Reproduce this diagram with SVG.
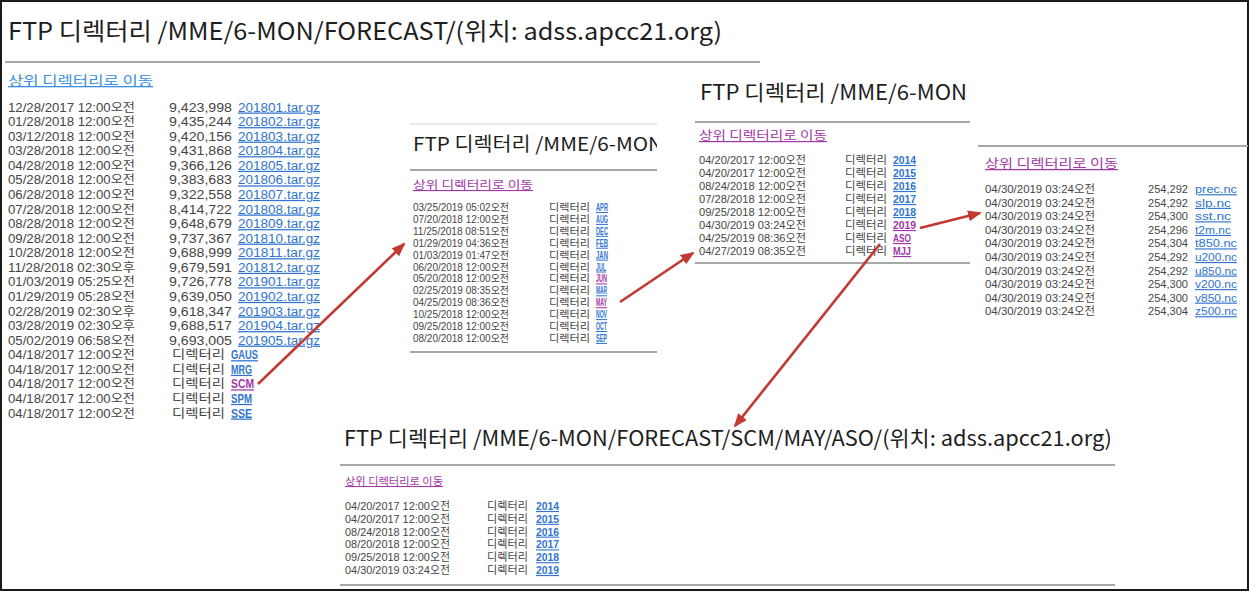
<svg xmlns="http://www.w3.org/2000/svg" width="1249" height="591" viewBox="0 0 1249 591">
  <style>
    text { font-family: "Noto Sans CJK KR", "Noto Sans", sans-serif; }
    .lst text { font-family: "Liberation Sans", "Noto Sans CJK KR", sans-serif; }
    .title { fill: #1e1e1e; }
    .r { fill: #454545; }
    .lb { fill: #2f74d0; text-decoration: underline; }
    .lp { fill: #a236a8; text-decoration: underline; }
    .up1 { fill: #3b8fe0; text-decoration: underline; }
    .b { font-weight: bold; }
    .rule { stroke: #a8a8a8; stroke-width: 2; fill: none; }
    .faint { stroke: #e4e4e4; stroke-width: 1.5; fill: none; }
    .arrow { stroke: #c23a32; stroke-width: 2.6; fill: none; marker-end: url(#head); }
    .p1 { font-size: 12.5px; }
    .p2 { font-size: 10.3px; }
    .p3 { font-size: 11.2px; }
    .p4 { font-size: 11.5px; }
    .p5 { font-size: 11px; }
  </style>
  <defs>
    <marker id="head" viewBox="0 0 14 11" refX="12" refY="5.5" markerWidth="14" markerHeight="11" markerUnits="userSpaceOnUse" orient="auto">
      <path d="M0,0 L14,5.5 L0,11 z" fill="#c23a32"/>
    </marker>
    <clipPath id="clip2">
      <rect x="405" y="120" width="252" height="240"/>
    </clipPath>
  </defs>

  <rect x="0" y="0" width="1249" height="591" fill="#ffffff"/>
  <rect x="1" y="1" width="1247" height="589" fill="none" stroke="#1a1a1a" stroke-width="2"/>

  <!-- Root directory listing -->
  <g id="forecast-root">
    <text class="title" x="8" y="40" font-size="24" textLength="714" lengthAdjust="spacingAndGlyphs">FTP 디렉터리 /MME/6-MON/FORECAST/(위치: adss.apcc21.org)</text>
    <line class="rule" x1="5" y1="62" x2="760" y2="62"/>
    <text class="up1" x="8" y="85" font-size="13" textLength="145" lengthAdjust="spacingAndGlyphs">상위 디렉터리로 이동</text>
    <g class="lst p1">
      <text class="r" x="8" y="111.5" textLength="127" lengthAdjust="spacingAndGlyphs">12/28/2017 12:00오전</text><text class="r" x="232" y="111.5" text-anchor="end" textLength="63" lengthAdjust="spacingAndGlyphs">9,423,998</text><text class="lb" x="238" y="111.5" textLength="82" lengthAdjust="spacingAndGlyphs">201801.tar.gz</text>
      <text class="r" x="8" y="126.1" textLength="127" lengthAdjust="spacingAndGlyphs">01/28/2018 12:00오전</text><text class="r" x="232" y="126.1" text-anchor="end" textLength="63" lengthAdjust="spacingAndGlyphs">9,435,244</text><text class="lb" x="238" y="126.1" textLength="82" lengthAdjust="spacingAndGlyphs">201802.tar.gz</text>
      <text class="r" x="8" y="140.6" textLength="127" lengthAdjust="spacingAndGlyphs">03/12/2018 12:00오전</text><text class="r" x="232" y="140.6" text-anchor="end" textLength="63" lengthAdjust="spacingAndGlyphs">9,420,156</text><text class="lb" x="238" y="140.6" textLength="82" lengthAdjust="spacingAndGlyphs">201803.tar.gz</text>
      <text class="r" x="8" y="155.2" textLength="127" lengthAdjust="spacingAndGlyphs">03/28/2018 12:00오전</text><text class="r" x="232" y="155.2" text-anchor="end" textLength="63" lengthAdjust="spacingAndGlyphs">9,431,868</text><text class="lb" x="238" y="155.2" textLength="82" lengthAdjust="spacingAndGlyphs">201804.tar.gz</text>
      <text class="r" x="8" y="169.8" textLength="127" lengthAdjust="spacingAndGlyphs">04/28/2018 12:00오전</text><text class="r" x="232" y="169.8" text-anchor="end" textLength="63" lengthAdjust="spacingAndGlyphs">9,366,126</text><text class="lb" x="238" y="169.8" textLength="82" lengthAdjust="spacingAndGlyphs">201805.tar.gz</text>
      <text class="r" x="8" y="184.4" textLength="127" lengthAdjust="spacingAndGlyphs">05/28/2018 12:00오전</text><text class="r" x="232" y="184.4" text-anchor="end" textLength="63" lengthAdjust="spacingAndGlyphs">9,383,683</text><text class="lb" x="238" y="184.4" textLength="82" lengthAdjust="spacingAndGlyphs">201806.tar.gz</text>
      <text class="r" x="8" y="198.9" textLength="127" lengthAdjust="spacingAndGlyphs">06/28/2018 12:00오전</text><text class="r" x="232" y="198.9" text-anchor="end" textLength="63" lengthAdjust="spacingAndGlyphs">9,322,558</text><text class="lb" x="238" y="198.9" textLength="82" lengthAdjust="spacingAndGlyphs">201807.tar.gz</text>
      <text class="r" x="8" y="213.5" textLength="127" lengthAdjust="spacingAndGlyphs">07/28/2018 12:00오전</text><text class="r" x="232" y="213.5" text-anchor="end" textLength="63" lengthAdjust="spacingAndGlyphs">8,414,722</text><text class="lb" x="238" y="213.5" textLength="82" lengthAdjust="spacingAndGlyphs">201808.tar.gz</text>
      <text class="r" x="8" y="228.1" textLength="127" lengthAdjust="spacingAndGlyphs">08/28/2018 12:00오전</text><text class="r" x="232" y="228.1" text-anchor="end" textLength="63" lengthAdjust="spacingAndGlyphs">9,648,679</text><text class="lb" x="238" y="228.1" textLength="82" lengthAdjust="spacingAndGlyphs">201809.tar.gz</text>
      <text class="r" x="8" y="242.6" textLength="127" lengthAdjust="spacingAndGlyphs">09/28/2018 12:00오전</text><text class="r" x="232" y="242.6" text-anchor="end" textLength="63" lengthAdjust="spacingAndGlyphs">9,737,367</text><text class="lb" x="238" y="242.6" textLength="82" lengthAdjust="spacingAndGlyphs">201810.tar.gz</text>
      <text class="r" x="8" y="257.2" textLength="127" lengthAdjust="spacingAndGlyphs">10/28/2018 12:00오전</text><text class="r" x="232" y="257.2" text-anchor="end" textLength="63" lengthAdjust="spacingAndGlyphs">9,688,999</text><text class="lb" x="238" y="257.2" textLength="82" lengthAdjust="spacingAndGlyphs">201811.tar.gz</text>
      <text class="r" x="8" y="271.8" textLength="127" lengthAdjust="spacingAndGlyphs">11/28/2018 02:30오후</text><text class="r" x="232" y="271.8" text-anchor="end" textLength="63" lengthAdjust="spacingAndGlyphs">9,679,591</text><text class="lb" x="238" y="271.8" textLength="82" lengthAdjust="spacingAndGlyphs">201812.tar.gz</text>
      <text class="r" x="8" y="286.3" textLength="127" lengthAdjust="spacingAndGlyphs">01/03/2019 05:25오전</text><text class="r" x="232" y="286.3" text-anchor="end" textLength="63" lengthAdjust="spacingAndGlyphs">9,726,778</text><text class="lb" x="238" y="286.3" textLength="82" lengthAdjust="spacingAndGlyphs">201901.tar.gz</text>
      <text class="r" x="8" y="300.9" textLength="127" lengthAdjust="spacingAndGlyphs">01/29/2019 05:28오전</text><text class="r" x="232" y="300.9" text-anchor="end" textLength="63" lengthAdjust="spacingAndGlyphs">9,639,050</text><text class="lb" x="238" y="300.9" textLength="82" lengthAdjust="spacingAndGlyphs">201902.tar.gz</text>
      <text class="r" x="8" y="315.5" textLength="127" lengthAdjust="spacingAndGlyphs">02/28/2019 02:30오후</text><text class="r" x="232" y="315.5" text-anchor="end" textLength="63" lengthAdjust="spacingAndGlyphs">9,618,347</text><text class="lb" x="238" y="315.5" textLength="82" lengthAdjust="spacingAndGlyphs">201903.tar.gz</text>
      <text class="r" x="8" y="330.1" textLength="127" lengthAdjust="spacingAndGlyphs">03/28/2019 02:30오후</text><text class="r" x="232" y="330.1" text-anchor="end" textLength="63" lengthAdjust="spacingAndGlyphs">9,688,517</text><text class="lb" x="238" y="330.1" textLength="82" lengthAdjust="spacingAndGlyphs">201904.tar.gz</text>
      <text class="r" x="8" y="344.6" textLength="127" lengthAdjust="spacingAndGlyphs">05/02/2019 06:58오전</text><text class="r" x="232" y="344.6" text-anchor="end" textLength="63" lengthAdjust="spacingAndGlyphs">9,693,005</text><text class="lb" x="238" y="344.6" textLength="82" lengthAdjust="spacingAndGlyphs">201905.tar.gz</text>
      <text class="r" x="8" y="359.2" textLength="127" lengthAdjust="spacingAndGlyphs">04/18/2017 12:00오전</text><text class="r" x="172" y="359.2" textLength="53" lengthAdjust="spacingAndGlyphs">디렉터리</text><text class="lb b" x="231" y="359.2" textLength="27" lengthAdjust="spacingAndGlyphs">GAUS</text>
      <text class="r" x="8" y="373.8" textLength="127" lengthAdjust="spacingAndGlyphs">04/18/2017 12:00오전</text><text class="r" x="172" y="373.8" textLength="53" lengthAdjust="spacingAndGlyphs">디렉터리</text><text class="lb b" x="231" y="373.8" textLength="21" lengthAdjust="spacingAndGlyphs">MRG</text>
      <text class="r" x="8" y="388.3" textLength="127" lengthAdjust="spacingAndGlyphs">04/18/2017 12:00오전</text><text class="r" x="172" y="388.3" textLength="53" lengthAdjust="spacingAndGlyphs">디렉터리</text><text class="lp b" x="231" y="388.3" textLength="23" lengthAdjust="spacingAndGlyphs">SCM</text>
      <text class="r" x="8" y="402.9" textLength="127" lengthAdjust="spacingAndGlyphs">04/18/2017 12:00오전</text><text class="r" x="172" y="402.9" textLength="53" lengthAdjust="spacingAndGlyphs">디렉터리</text><text class="lb b" x="231" y="402.9" textLength="21" lengthAdjust="spacingAndGlyphs">SPM</text>
      <text class="r" x="8" y="417.5" textLength="127" lengthAdjust="spacingAndGlyphs">04/18/2017 12:00오전</text><text class="r" x="172" y="417.5" textLength="53" lengthAdjust="spacingAndGlyphs">디렉터리</text><text class="lb b" x="231" y="417.5" textLength="21" lengthAdjust="spacingAndGlyphs">SSE</text>
    </g>
  </g>

  <!-- SCM: month directories -->
  <g id="scm-months">
    <line class="faint" x1="410" y1="124" x2="657" y2="124"/>
    <text class="title" x="413" y="151" font-size="19" textLength="250" lengthAdjust="spacingAndGlyphs" clip-path="url(#clip2)">FTP 디렉터리 /MME/6-MON</text>
    <line class="rule" x1="410" y1="170" x2="657" y2="170"/>
    <text class="lp" x="413" y="189" font-size="11" textLength="120" lengthAdjust="spacingAndGlyphs">상위 디렉터리로 이동</text>
    <g class="lst p2">
      <text class="r" x="413" y="211" textLength="96" lengthAdjust="spacingAndGlyphs">03/25/2019 05:02오전</text><text class="r" x="549" y="211" textLength="41" lengthAdjust="spacingAndGlyphs">디렉터리</text><text class="lb b" x="596" y="211" textLength="12" lengthAdjust="spacingAndGlyphs">APR</text>
      <text class="r" x="413" y="222.9" textLength="96" lengthAdjust="spacingAndGlyphs">07/20/2018 12:00오전</text><text class="r" x="549" y="222.9" textLength="41" lengthAdjust="spacingAndGlyphs">디렉터리</text><text class="lb b" x="596" y="222.9" textLength="12" lengthAdjust="spacingAndGlyphs">AUG</text>
      <text class="r" x="413" y="234.8" textLength="96" lengthAdjust="spacingAndGlyphs">11/25/2018 08:51오전</text><text class="r" x="549" y="234.8" textLength="41" lengthAdjust="spacingAndGlyphs">디렉터리</text><text class="lb b" x="596" y="234.8" textLength="12" lengthAdjust="spacingAndGlyphs">DEC</text>
      <text class="r" x="413" y="246.7" textLength="96" lengthAdjust="spacingAndGlyphs">01/29/2019 04:36오전</text><text class="r" x="549" y="246.7" textLength="41" lengthAdjust="spacingAndGlyphs">디렉터리</text><text class="lb b" x="596" y="246.7" textLength="12" lengthAdjust="spacingAndGlyphs">FEB</text>
      <text class="r" x="413" y="258.6" textLength="96" lengthAdjust="spacingAndGlyphs">01/03/2019 01:47오전</text><text class="r" x="549" y="258.6" textLength="41" lengthAdjust="spacingAndGlyphs">디렉터리</text><text class="lb b" x="596" y="258.6" textLength="12" lengthAdjust="spacingAndGlyphs">JAN</text>
      <text class="r" x="413" y="270.5" textLength="96" lengthAdjust="spacingAndGlyphs">06/20/2018 12:00오전</text><text class="r" x="549" y="270.5" textLength="41" lengthAdjust="spacingAndGlyphs">디렉터리</text><text class="lb b" x="596" y="270.5" textLength="10" lengthAdjust="spacingAndGlyphs">JUL</text>
      <text class="r" x="413" y="282.4" textLength="96" lengthAdjust="spacingAndGlyphs">05/20/2018 12:00오전</text><text class="r" x="549" y="282.4" textLength="41" lengthAdjust="spacingAndGlyphs">디렉터리</text><text class="lp b" x="596" y="282.4" textLength="11" lengthAdjust="spacingAndGlyphs">JUN</text>
      <text class="r" x="413" y="294.3" textLength="96" lengthAdjust="spacingAndGlyphs">02/25/2019 08:35오전</text><text class="r" x="549" y="294.3" textLength="41" lengthAdjust="spacingAndGlyphs">디렉터리</text><text class="lb b" x="596" y="294.3" textLength="11" lengthAdjust="spacingAndGlyphs">MAR</text>
      <text class="r" x="413" y="306.2" textLength="96" lengthAdjust="spacingAndGlyphs">04/25/2019 08:36오전</text><text class="r" x="549" y="306.2" textLength="41" lengthAdjust="spacingAndGlyphs">디렉터리</text><text class="lp b" x="596" y="306.2" textLength="11" lengthAdjust="spacingAndGlyphs">MAY</text>
      <text class="r" x="413" y="318.1" textLength="96" lengthAdjust="spacingAndGlyphs">10/25/2018 12:00오전</text><text class="r" x="549" y="318.1" textLength="41" lengthAdjust="spacingAndGlyphs">디렉터리</text><text class="lb b" x="596" y="318.1" textLength="11" lengthAdjust="spacingAndGlyphs">NOV</text>
      <text class="r" x="413" y="330" textLength="96" lengthAdjust="spacingAndGlyphs">09/25/2018 12:00오전</text><text class="r" x="549" y="330" textLength="41" lengthAdjust="spacingAndGlyphs">디렉터리</text><text class="lb b" x="596" y="330" textLength="11" lengthAdjust="spacingAndGlyphs">OCT</text>
      <text class="r" x="413" y="341.9" textLength="96" lengthAdjust="spacingAndGlyphs">08/20/2018 12:00오전</text><text class="r" x="549" y="341.9" textLength="41" lengthAdjust="spacingAndGlyphs">디렉터리</text><text class="lb b" x="596" y="341.9" textLength="11" lengthAdjust="spacingAndGlyphs">SEP</text>
    </g>
    <line class="rule" x1="410" y1="352" x2="657" y2="352"/>
  </g>

  <!-- SCM/MAY: year and season directories -->
  <g id="scm-may">
    <text class="title" x="700" y="100" font-size="21" textLength="267" lengthAdjust="spacingAndGlyphs">FTP 디렉터리 /MME/6-MON</text>
    <line class="rule" x1="695" y1="122" x2="970" y2="122"/>
    <text class="lp" x="699" y="140" font-size="12" textLength="128" lengthAdjust="spacingAndGlyphs">상위 디렉터리로 이동</text>
    <g class="lst p3">
      <text class="r" x="699" y="164" textLength="107" lengthAdjust="spacingAndGlyphs">04/20/2017 12:00오전</text><text class="r" x="845" y="164" textLength="42" lengthAdjust="spacingAndGlyphs">디렉터리</text><text class="lb b" x="893" y="164" textLength="23" lengthAdjust="spacingAndGlyphs">2014</text>
      <text class="r" x="699" y="177" textLength="107" lengthAdjust="spacingAndGlyphs">04/20/2017 12:00오전</text><text class="r" x="845" y="177" textLength="42" lengthAdjust="spacingAndGlyphs">디렉터리</text><text class="lb b" x="893" y="177" textLength="23" lengthAdjust="spacingAndGlyphs">2015</text>
      <text class="r" x="699" y="190" textLength="107" lengthAdjust="spacingAndGlyphs">08/24/2018 12:00오전</text><text class="r" x="845" y="190" textLength="42" lengthAdjust="spacingAndGlyphs">디렉터리</text><text class="lb b" x="893" y="190" textLength="23" lengthAdjust="spacingAndGlyphs">2016</text>
      <text class="r" x="699" y="203" textLength="107" lengthAdjust="spacingAndGlyphs">07/28/2018 12:00오전</text><text class="r" x="845" y="203" textLength="42" lengthAdjust="spacingAndGlyphs">디렉터리</text><text class="lb b" x="893" y="203" textLength="23" lengthAdjust="spacingAndGlyphs">2017</text>
      <text class="r" x="699" y="216" textLength="107" lengthAdjust="spacingAndGlyphs">09/25/2018 12:00오전</text><text class="r" x="845" y="216" textLength="42" lengthAdjust="spacingAndGlyphs">디렉터리</text><text class="lb b" x="893" y="216" textLength="23" lengthAdjust="spacingAndGlyphs">2018</text>
      <text class="r" x="699" y="229" textLength="107" lengthAdjust="spacingAndGlyphs">04/30/2019 03:24오전</text><text class="r" x="845" y="229" textLength="42" lengthAdjust="spacingAndGlyphs">디렉터리</text><text class="lp b" x="893" y="229" textLength="23" lengthAdjust="spacingAndGlyphs">2019</text>
      <text class="r" x="699" y="242" textLength="107" lengthAdjust="spacingAndGlyphs">04/25/2019 08:36오전</text><text class="r" x="845" y="242" textLength="42" lengthAdjust="spacingAndGlyphs">디렉터리</text><text class="lp b" x="893" y="242" textLength="18" lengthAdjust="spacingAndGlyphs">ASO</text>
      <text class="r" x="699" y="255" textLength="107" lengthAdjust="spacingAndGlyphs">04/27/2019 08:35오전</text><text class="r" x="845" y="255" textLength="42" lengthAdjust="spacingAndGlyphs">디렉터리</text><text class="lp b" x="893" y="255" textLength="18" lengthAdjust="spacingAndGlyphs">MJJ</text>
    </g>
    <line class="rule" x1="695" y1="263" x2="970" y2="263" stroke-width="3"/>
  </g>

  <!-- SCM/MAY/2019: NetCDF files -->
  <g id="scm-may-2019">
    <line class="rule" x1="978" y1="146" x2="1248" y2="146"/>
    <text class="lp" x="985" y="168" font-size="12.5" textLength="133" lengthAdjust="spacingAndGlyphs">상위 디렉터리로 이동</text>
    <g class="lst p4">
      <text class="r" x="985" y="193.2" textLength="110" lengthAdjust="spacingAndGlyphs">04/30/2019 03:24오전</text><text class="r" x="1188" y="193.2" text-anchor="end" textLength="40" lengthAdjust="spacingAndGlyphs">254,292</text><text class="lb" x="1195" y="193.2" textLength="42" lengthAdjust="spacingAndGlyphs">prec.nc</text>
      <text class="r" x="985" y="206.8" textLength="110" lengthAdjust="spacingAndGlyphs">04/30/2019 03:24오전</text><text class="r" x="1188" y="206.8" text-anchor="end" textLength="40" lengthAdjust="spacingAndGlyphs">254,292</text><text class="lb" x="1195" y="206.8" textLength="36" lengthAdjust="spacingAndGlyphs">slp.nc</text>
      <text class="r" x="985" y="220.3" textLength="110" lengthAdjust="spacingAndGlyphs">04/30/2019 03:24오전</text><text class="r" x="1188" y="220.3" text-anchor="end" textLength="40" lengthAdjust="spacingAndGlyphs">254,300</text><text class="lb" x="1195" y="220.3" textLength="36" lengthAdjust="spacingAndGlyphs">sst.nc</text>
      <text class="r" x="985" y="233.9" textLength="110" lengthAdjust="spacingAndGlyphs">04/30/2019 03:24오전</text><text class="r" x="1188" y="233.9" text-anchor="end" textLength="40" lengthAdjust="spacingAndGlyphs">254,296</text><text class="lb" x="1195" y="233.9" textLength="36" lengthAdjust="spacingAndGlyphs">t2m.nc</text>
      <text class="r" x="985" y="247.4" textLength="110" lengthAdjust="spacingAndGlyphs">04/30/2019 03:24오전</text><text class="r" x="1188" y="247.4" text-anchor="end" textLength="40" lengthAdjust="spacingAndGlyphs">254,304</text><text class="lb" x="1195" y="247.4" textLength="42" lengthAdjust="spacingAndGlyphs">t850.nc</text>
      <text class="r" x="985" y="261" textLength="110" lengthAdjust="spacingAndGlyphs">04/30/2019 03:24오전</text><text class="r" x="1188" y="261" text-anchor="end" textLength="40" lengthAdjust="spacingAndGlyphs">254,292</text><text class="lb" x="1195" y="261" textLength="42" lengthAdjust="spacingAndGlyphs">u200.nc</text>
      <text class="r" x="985" y="274.5" textLength="110" lengthAdjust="spacingAndGlyphs">04/30/2019 03:24오전</text><text class="r" x="1188" y="274.5" text-anchor="end" textLength="40" lengthAdjust="spacingAndGlyphs">254,292</text><text class="lb" x="1195" y="274.5" textLength="42" lengthAdjust="spacingAndGlyphs">u850.nc</text>
      <text class="r" x="985" y="288.1" textLength="110" lengthAdjust="spacingAndGlyphs">04/30/2019 03:24오전</text><text class="r" x="1188" y="288.1" text-anchor="end" textLength="40" lengthAdjust="spacingAndGlyphs">254,300</text><text class="lb" x="1195" y="288.1" textLength="42" lengthAdjust="spacingAndGlyphs">v200.nc</text>
      <text class="r" x="985" y="301.6" textLength="110" lengthAdjust="spacingAndGlyphs">04/30/2019 03:24오전</text><text class="r" x="1188" y="301.6" text-anchor="end" textLength="40" lengthAdjust="spacingAndGlyphs">254,300</text><text class="lb" x="1195" y="301.6" textLength="42" lengthAdjust="spacingAndGlyphs">v850.nc</text>
      <text class="r" x="985" y="315.2" textLength="110" lengthAdjust="spacingAndGlyphs">04/30/2019 03:24오전</text><text class="r" x="1188" y="315.2" text-anchor="end" textLength="40" lengthAdjust="spacingAndGlyphs">254,304</text><text class="lb" x="1195" y="315.2" textLength="42" lengthAdjust="spacingAndGlyphs">z500.nc</text>
    </g>
  </g>

  <!-- SCM/MAY/ASO: year directories -->
  <g id="scm-may-aso">
    <text class="title" x="344" y="446" font-size="21" textLength="768" lengthAdjust="spacingAndGlyphs">FTP 디렉터리 /MME/6-MON/FORECAST/SCM/MAY/ASO/(위치: adss.apcc21.org)</text>
    <line class="rule" x1="340" y1="465" x2="1115" y2="465"/>
    <text class="lp" x="345" y="485" font-size="10.5" textLength="98" lengthAdjust="spacingAndGlyphs">상위 디렉터리로 이동</text>
    <g class="lst p5">
      <text class="r" x="345" y="510" textLength="105" lengthAdjust="spacingAndGlyphs">04/20/2017 12:00오전</text><text class="r" x="487" y="510" textLength="41" lengthAdjust="spacingAndGlyphs">디렉터리</text><text class="lb b" x="536" y="510" textLength="23" lengthAdjust="spacingAndGlyphs">2014</text>
      <text class="r" x="345" y="522.8" textLength="105" lengthAdjust="spacingAndGlyphs">04/20/2017 12:00오전</text><text class="r" x="487" y="522.8" textLength="41" lengthAdjust="spacingAndGlyphs">디렉터리</text><text class="lb b" x="536" y="522.8" textLength="23" lengthAdjust="spacingAndGlyphs">2015</text>
      <text class="r" x="345" y="535.6" textLength="105" lengthAdjust="spacingAndGlyphs">08/24/2018 12:00오전</text><text class="r" x="487" y="535.6" textLength="41" lengthAdjust="spacingAndGlyphs">디렉터리</text><text class="lb b" x="536" y="535.6" textLength="23" lengthAdjust="spacingAndGlyphs">2016</text>
      <text class="r" x="345" y="548.4" textLength="105" lengthAdjust="spacingAndGlyphs">08/20/2018 12:00오전</text><text class="r" x="487" y="548.4" textLength="41" lengthAdjust="spacingAndGlyphs">디렉터리</text><text class="lb b" x="536" y="548.4" textLength="23" lengthAdjust="spacingAndGlyphs">2017</text>
      <text class="r" x="345" y="561.2" textLength="105" lengthAdjust="spacingAndGlyphs">09/25/2018 12:00오전</text><text class="r" x="487" y="561.2" textLength="41" lengthAdjust="spacingAndGlyphs">디렉터리</text><text class="lb b" x="536" y="561.2" textLength="23" lengthAdjust="spacingAndGlyphs">2018</text>
      <text class="r" x="345" y="574" textLength="105" lengthAdjust="spacingAndGlyphs">04/30/2019 03:24오전</text><text class="r" x="487" y="574" textLength="41" lengthAdjust="spacingAndGlyphs">디렉터리</text><text class="lb b" x="536" y="574" textLength="23" lengthAdjust="spacingAndGlyphs">2019</text>
    </g>
    <line class="rule" x1="340" y1="585" x2="1115" y2="585"/>
  </g>

  <!-- Navigation arrows -->
  <g id="connectors">
    <line class="arrow" x1="258" y1="384" x2="404" y2="244"/>
    <line class="arrow" x1="620" y1="302" x2="693" y2="253"/>
    <line class="arrow" x1="920" y1="228" x2="980" y2="213"/>
    <line class="arrow" x1="880" y1="244" x2="735" y2="426"/>
  </g>
</svg>
